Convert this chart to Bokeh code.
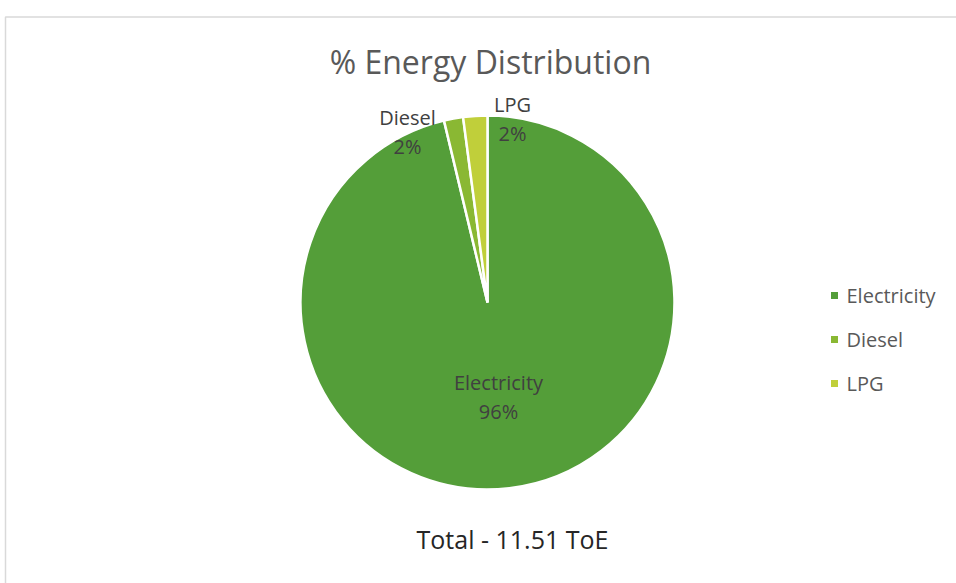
import math
from bokeh.plotting import figure
from bokeh.models import Range1d, ColumnDataSource
from bokeh.core.properties import value
from bokeh.embed import file_html
from bokeh.resources import INLINE

# Data
categories = ["Electricity", "Diesel", "LPG"]
toe_values = [11.08, 0.19, 0.24]
colors = ["#549E39", "#8AB833", "#C0CF3A"]
title_text = "% Energy Distribution"
total_text = "Total - 11.51 ToE"

W, H = 956, 583
FONT = "Open Sans"

total = sum(toe_values)
fracs = [v / total for v in toe_values]
cum = [0.0]
for f in fracs:
    cum.append(cum[-1] + f)
start_angles = [math.pi / 2 - 2 * math.pi * cum[i] for i in range(len(fracs))]
end_angles = [math.pi / 2 - 2 * math.pi * cum[i + 1] for i in range(len(fracs))]
pct_labels = [f"{round(f * 100)}%" for f in fracs]

p = figure(width=W, height=H, output_backend="svg", toolbar_location=None,
           x_range=Range1d(0, W), y_range=Range1d(0, H), min_border=0)
p.axis.visible = False
p.grid.visible = False
p.outline_line_color = None
p.background_fill_color = "white"
p.border_fill_color = "white"

def Y(y):
    return H - y

# chart border
p.quad(left=5, right=W + 20, top=Y(16.5), bottom=-20, fill_color=None,
       line_color="#d9d9d9", line_width=1.5)

cx, cy, r = 487, Y(302), 187
src = ColumnDataSource(dict(start=start_angles, end=end_angles, color=colors, cat=categories))
p.wedge(x=cx, y=cy, radius=r, start_angle="start", end_angle="end", direction="clock",
        fill_color="color", line_color="white", line_width=2.5, source=src)

# title
p.text(x=[490], y=[Y(61)], text=[title_text], text_align="center", text_baseline="middle",
       text_font=value(FONT), text_font_size="32px", text_color="#595959")

# data labels
lab_x = [498, 407, 512]
lab_y1 = [Y(382), Y(117), Y(104)]
lab_y2 = [Y(411), Y(146), Y(133)]
p.text(x=lab_x, y=lab_y1, text=categories, text_align="center", text_baseline="middle",
       text_font=value(FONT), text_font_size="20px", text_color="#404040")
p.text(x=lab_x, y=lab_y2, text=pct_labels, text_align="center", text_baseline="middle",
       text_font=value(FONT), text_font_size="20px", text_color="#404040")

# legend
leg_y = [Y(295), Y(339), Y(383)]
p.rect(x=[834] * 3, y=leg_y, width=7, height=7, fill_color=colors, line_color=None)
p.text(x=[846] * 3, y=leg_y, text=categories, text_align="left", text_baseline="middle",
       text_font=value(FONT), text_font_size="20px", text_color="#595959")

# total
p.text(x=[512], y=[Y(538)], text=[total_text], text_align="center", text_baseline="middle",
       text_font=value(FONT), text_font_size="25px", text_color="#262626")

open("out.html", "w").write(file_html(p, INLINE))
